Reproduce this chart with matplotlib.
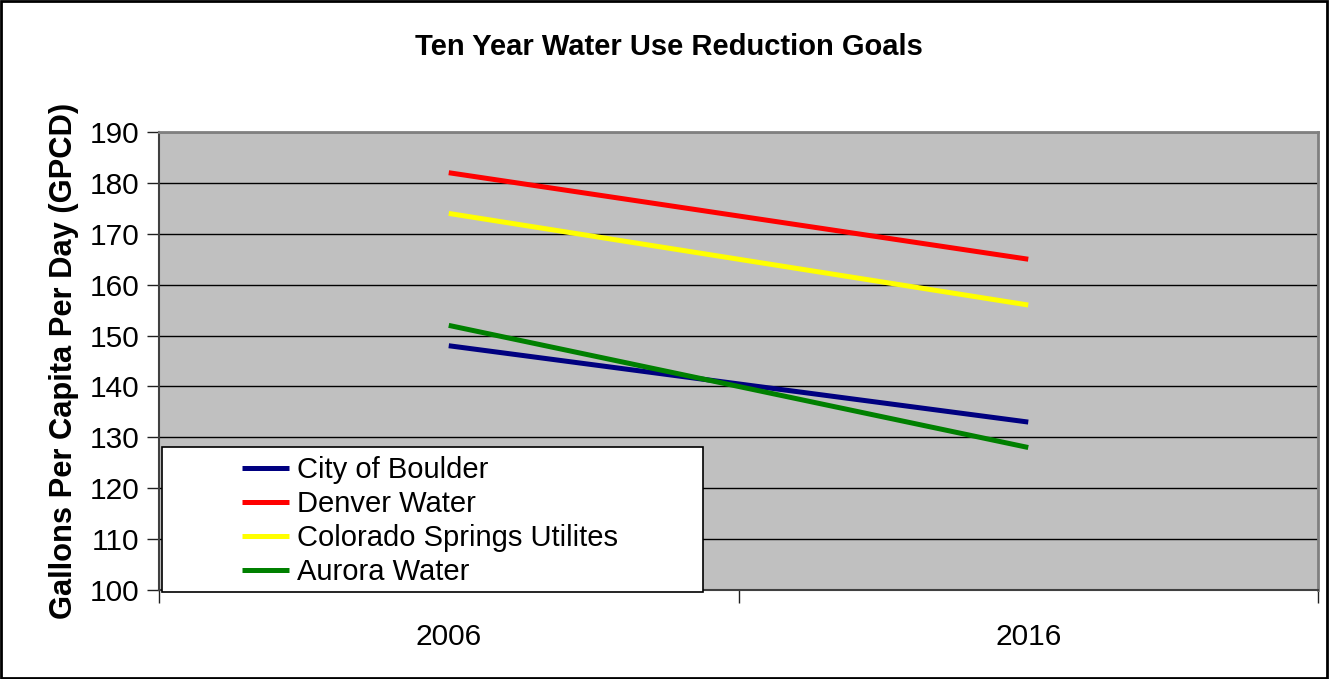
import matplotlib
matplotlib.use('Agg')
import matplotlib.pyplot as plt
from matplotlib.patches import Rectangle

plt.rcParams['font.family'] = ['Liberation Sans', 'DejaVu Sans']

# Data
years = ['2006', '2016']
series = ['City of Boulder', 'Denver Water', 'Colorado Springs Utilites', 'Aurora Water']
boulder = [148, 133]
denver = [182, 165]
colorado_springs = [174, 156]
aurora = [152, 128]
colors = ['#000080', '#FF0000', '#FFFF00', '#008000']

fig = plt.figure(figsize=(13.3, 6.79), dpi=100)
W, H = 1330, 679
ax = fig.add_axes([159 / W, 1 - 590 / H, (1318 - 159) / W, (590 - 132) / H])

x = range(len(years))
for vals, name, c in zip([boulder, denver, colorado_springs, aurora], series, colors):
    ax.plot(x, vals, color=c, linewidth=3.6, label=name, solid_capstyle='butt')

ax.set_facecolor('#C0C0C0')
ax.set_xlim(-0.5, 1.5)
ax.set_ylim(100, 190)
ax.set_yticks(range(100, 191, 10))
ax.yaxis.grid(True, color='black', linewidth=1)
ax.set_axisbelow(True)

ax.set_xticks(list(x))
ax.set_xticklabels(years)
ax.set_xticks([-0.5, 0.5, 1.5], minor=True)
ax.tick_params(axis='x', which='major', length=0, pad=24, labelsize=21.5)
ax.tick_params(axis='x', which='minor', length=9, width=1, color='#202020', direction='out')
ax.tick_params(axis='y', length=9, width=1, color='#202020', direction='out', labelsize=21.5, pad=5)

for side in ['top', 'right']:
    ax.spines[side].set_color('#808080')
    ax.spines[side].set_linewidth(2)
for side in ['left', 'bottom']:
    ax.spines[side].set_color('#404040')
    ax.spines[side].set_linewidth(1.5)

ax.set_ylabel('Gallons Per Capita Per Day (GPCD)', fontsize=22.2, fontweight='bold', labelpad=8)
fig.text(669 / W, 1 - 47 / H, 'Ten Year Water Use Reduction Goals', ha='center', va='center',
         fontsize=21, fontweight='bold')

# legend box
box = Rectangle((162 / W, 1 - 592 / H), (703 - 162) / W, (592 - 447) / H, transform=fig.transFigure,
                facecolor='white', edgecolor='black', linewidth=1.2, zorder=5)
fig.patches.append(box)
leg = fig.legend(loc='upper left', bbox_to_anchor=(222 / W, 1 - 436 / H), frameon=False,
                 fontsize=21, handlelength=1.6, handletextpad=0.28, labelspacing=0.2,
                 borderpad=0.2)
leg.set_zorder(6)

# figure border
fig.patches.append(Rectangle((0.001, 0.002), 0.997, 0.996, transform=fig.transFigure,
                             facecolor='none', edgecolor='black', linewidth=2))

fig.savefig('out.png', dpi=100)
